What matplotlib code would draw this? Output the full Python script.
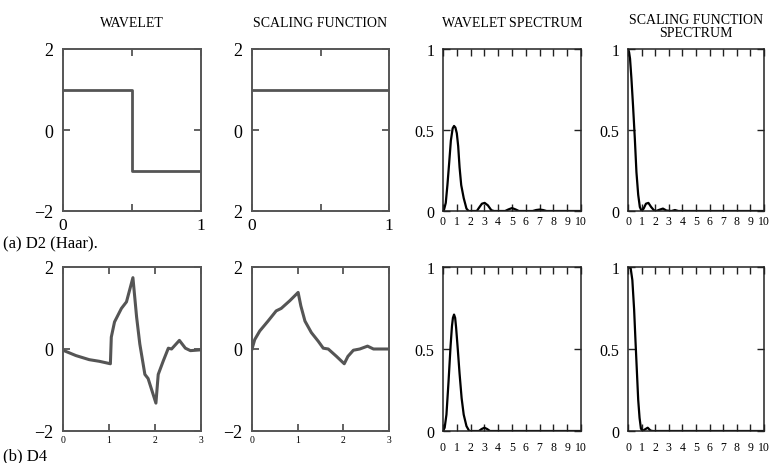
import matplotlib.pyplot as plt

plt.rcParams['font.family'] = ['Liberation Serif', 'DejaVu Serif']

# (a) D2 (Haar)
haar_t = [0, 0.5, 0.5, 1]
haar_wavelet = [1, 1, -1, -1]
haar_sc_t = [0, 1]
haar_scaling = [1, 1]

haar_wspec_f = [0, 0.08, 0.2, 0.32, 0.45, 0.57, 0.7, 0.8, 0.9, 1.0, 1.1, 1.2, 1.32, 1.5, 1.7,
                1.85, 2.45, 2.65, 2.82, 3.02, 3.25, 3.5, 3.7, 4.5, 4.75, 5.0, 5.25, 5.5,
                6.5, 6.75, 7.0, 7.25, 7.5, 10]
haar_wspec = [0, 0.01, 0.05, 0.16, 0.30, 0.435, 0.51, 0.525, 0.515, 0.48, 0.40, 0.27, 0.16,
              0.08, 0.015, 0, 0, 0.025, 0.045, 0.05, 0.035, 0.005, 0, 0, 0.01, 0.018, 0.01,
              0, 0, 0.006, 0.009, 0.006, 0, 0]
haar_sspec_f = [0, 0.08, 0.15, 0.25, 0.37, 0.5, 0.62, 0.75, 0.87, 1.0, 1.15, 1.32, 1.5, 1.7,
                1.9, 2.07, 2.32, 2.57, 2.82, 3.2, 3.45, 3.7, 10]
haar_sspec = [1.0, 0.98, 0.94, 0.82, 0.65, 0.45, 0.24, 0.10, 0.025, 0, 0.015, 0.045, 0.05,
              0.025, 0.005, 0, 0.008, 0.015, 0.003, 0, 0.006, 0, 0]

# (b) D4
d4_wav_t = [0, 0.28, 0.57, 0.79, 1.03, 1.05, 1.12, 1.27, 1.38, 1.52, 1.60, 1.67, 1.78, 1.85,
            2.02, 2.07, 2.18, 2.29, 2.36, 2.53, 2.66, 2.77, 3.0]
d4_wavelet = [-0.03, -0.16, -0.26, -0.30, -0.36, 0.29, 0.66, 0.99, 1.15, 1.74, 0.78, 0.12,
              -0.62, -0.72, -1.32, -0.62, -0.29, 0.02, 0.0, 0.21, 0.02, -0.04, -0.02]
d4_sc_t = [0, 0.06, 0.17, 0.35, 0.53, 0.64, 0.83, 1.01, 1.07, 1.16, 1.30, 1.45, 1.56, 1.67,
           1.85, 2.02, 2.10, 2.22, 2.36, 2.53, 2.66, 3.0]
d4_scaling = [0, 0.23, 0.44, 0.68, 0.93, 0.99, 1.18, 1.38, 1.05, 0.68, 0.40, 0.19, 0.02, 0.0,
              -0.18, -0.36, -0.18, -0.03, 0.0, 0.07, 0.0, 0]

d4_wspec_f = [0, 0.12, 0.25, 0.4, 0.55, 0.65, 0.72, 0.8, 0.88, 0.95, 1.07, 1.2, 1.35, 1.5,
              1.7, 1.9, 2.6, 2.8, 3.0, 3.2, 3.4, 10]
d4_wspec = [0, 0.02, 0.1, 0.3, 0.52, 0.64, 0.69, 0.71, 0.69, 0.63, 0.5, 0.35, 0.2, 0.1,
            0.03, 0, 0, 0.012, 0.02, 0.012, 0, 0]
d4_sspec_f = [0, 0.1, 0.2, 0.32, 0.45, 0.55, 0.65, 0.75, 0.85, 0.95, 1.07, 1.25, 1.45, 1.65,
              1.82, 10]
d4_sspec = [1.0, 1.0, 0.99, 0.92, 0.74, 0.55, 0.37, 0.19, 0.08, 0.015, 0, 0.01, 0.02, 0.003,
            0, 0]

titles = ['WAVELET', 'SCALING FUNCTION', 'WAVELET SPECTRUM', 'SCALING FUNCTION\nSPECTRUM']
row_labels = ['(a) D2 (Haar).', '(b) D4']

W, H = 771, 464
fig = plt.figure(figsize=(W / 100, H / 100), dpi=100)


def px_axes(x0, x1, y0, y1):
    return fig.add_axes([x0 / W, 1 - y1 / H, (x1 - x0) / W, (y1 - y0) / H])


cols = [(63, 201), (252, 389), (443, 581), (628, 764)]
rows = [(50, 212), (268, 432)]
gray = '#555555'

axes = [[px_axes(c[0], c[1], r[0], r[1]) for c in cols] for r in rows]


def style_time(ax, color, xlim, xticks, xlabels, xsize, xpad, ylabels):
    ax.set_xlim(*xlim)
    ax.set_ylim(-2, 2)
    for s in ax.spines.values():
        s.set_color(color)
        s.set_linewidth(1.4)
    ax.set_xticks(xticks)
    ax.set_xticklabels(xlabels)
    ax.set_yticks([-2, 0, 2])
    ax.set_yticklabels(ylabels)
    ax.tick_params(direction='in', top=True, right=True, length=5, width=1.3, color=color)
    ax.tick_params(axis='x', labelsize=xsize, pad=xpad)
    ax.tick_params(axis='y', labelsize=13, pad=7)


def style_spec(ax, xpad):
    ax.set_xlim(0, 10)
    ax.set_ylim(0, 1)
    for s in ax.spines.values():
        s.set_color('#222222')
        s.set_linewidth(1.1)
    ax.set_xticks(range(11))
    ax.set_xticklabels([str(i) for i in range(11)])
    ax.set_yticks([0, 0.5, 1])
    ax.set_yticklabels(['0', '0.5', '1'])
    ax.tick_params(direction='in', top=True, right=True, length=5, width=1.0, color='#222222')
    ax.tick_params(axis='x', labelsize=8.5, pad=xpad)
    ax.tick_params(axis='y', labelsize=11.5, pad=6)


# top row: Haar
ax = axes[0][0]
ax.plot(haar_t, haar_wavelet, color=gray, lw=2)
style_time(ax, gray, (0, 1), [0, 0.5, 1], ['0', '', '1'], 12.5, 4, ['\u22122', '0', '2'])
ax = axes[0][1]
ax.plot(haar_sc_t, haar_scaling, color=gray, lw=2)
style_time(ax, gray, (0, 1), [0, 0.5, 1], ['0', '', '1'], 12.5, 4, ['2', '0', '2'])
ax = axes[0][2]
ax.plot(haar_wspec_f, haar_wspec, color='black', lw=1.6)
style_spec(ax, 3)
ax = axes[0][3]
ax.plot(haar_sspec_f, haar_sspec, color='black', lw=1.6)
style_spec(ax, 3)

# bottom row: D4
ax = axes[1][0]
ax.plot(d4_wav_t, d4_wavelet, color=gray, lw=2.2)
style_time(ax, gray, (0, 3), [0, 1, 2, 3], ['0', '1', '2', '3'], 7, 3, ['\u22122', '0', '2'])
ax = axes[1][1]
ax.plot(d4_sc_t, d4_scaling, color=gray, lw=2.2)
style_time(ax, gray, (0, 3), [0, 1, 2, 3], ['0', '1', '2', '3'], 7, 3, ['\u22122', '0', '2'])
ax = axes[1][2]
ax.plot(d4_wspec_f, d4_wspec, color='black', lw=1.6)
style_spec(ax, 7)
ax = axes[1][3]
ax.plot(d4_sspec_f, d4_sspec, color='black', lw=1.6)
style_spec(ax, 7)

for i, t in enumerate(titles):
    c = cols[i]
    xc = (c[0] + c[1]) / 2 / W
    if '\n' in t:
        fig.text(xc, 1 - 37 / H, t, ha='center', va='baseline', fontsize=10, linespacing=0.95)
    else:
        fig.text(xc, 1 - 27 / H, t, ha='center', va='baseline', fontsize=10)

fig.text(3 / W, 1 - 248 / H, row_labels[0], ha='left', va='baseline', fontsize=12)
fig.text(3 / W, 1 - 460 / H, row_labels[1], ha='left', va='baseline', fontsize=12)

fig.savefig('out.png', dpi=100)
